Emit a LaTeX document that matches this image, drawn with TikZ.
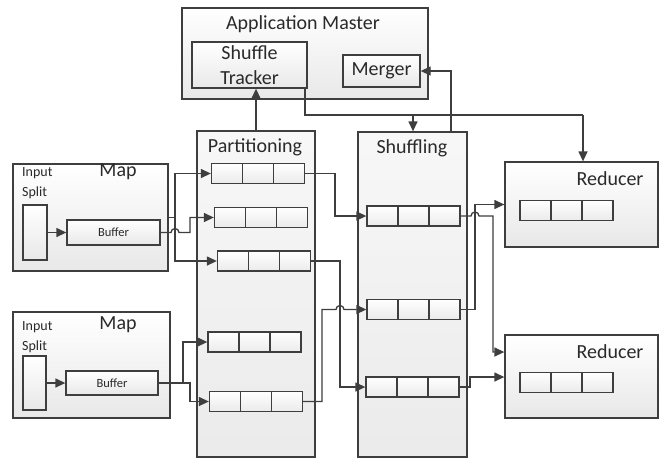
\documentclass[tikz,border=0pt]{standalone}
\usepackage{fontspec}
\setmainfont{Carlito}
\usetikzlibrary{arrows.meta,calc}
\definecolor{ln}{HTML}{3E3E3E}
\definecolor{tx}{HTML}{2A2A2A}
\tikzset{
  box/.style={draw=ln, line width=1.3pt, top color=white, bottom color=black!9, inner sep=0pt},
  column/.style={draw=ln, line width=1.3pt, top color=black!3, bottom color=black!8, inner sep=0pt},
  cellrow/.style={draw=ln, line width=1.3pt, top color=white, bottom color=black!8, inner sep=0pt,
    minimum width=93pt, minimum height=20pt,
    path picture={
      \draw[ln, line width=1.3pt] ($(path picture bounding box.north west)!1/3!(path picture bounding box.north east)$) -- ($(path picture bounding box.south west)!1/3!(path picture bounding box.south east)$);
      \draw[ln, line width=1.3pt] ($(path picture bounding box.north west)!2/3!(path picture bounding box.north east)$) -- ($(path picture bounding box.south west)!2/3!(path picture bounding box.south east)$);
    }},
  big/.style={text=tx, inner sep=0pt, font=\fontsize{20}{25}\selectfont},
  small/.style={text=tx, inner sep=0pt, font=\fontsize{14}{17}\selectfont},
  tiny/.style={text=tx, inner sep=0pt, font=\fontsize{12.5}{14}\selectfont},
  arr/.style={draw=ln, line width=1.3pt, -{Triangle[length=10pt,width=9pt]}},
  ln/.style={draw=ln, line width=1.3pt},
}
\begin{document}
\begin{tikzpicture}[x=1pt,y=-1pt]
\useasboundingbox (0,0) rectangle (664,459);
% Application master
\node[box, minimum width=246pt, minimum height=91pt] (am) at (305,53.5) {};
\node[big] (amt) at (303,24) {Application Master};
\node[box, minimum width=115pt, minimum height=46pt, align=center, text=tx, font=\fontsize{20}{25}\selectfont] (st) at (249.5,65) {Shuffle\\Tracker};
\node[box, minimum width=77pt, minimum height=32pt, text=tx, font=\fontsize{20}{25}\selectfont] (mg) at (381.5,71) {Merger};
% columns
\node[column, minimum width=118pt, minimum height=326pt] (part) at (256,294) {};
\node[big] (partt) at (255,147) {Partitioning};
\node[column, minimum width=109pt, minimum height=325pt] (shuf) at (412.5,294.5) {};
\node[big] (shuft) at (412,148) {Shuffling};
% maps
\node[box, minimum width=155pt, minimum height=107pt] (map1) at (90.5,217.5) {};
\node[big] (map1t) at (118,172) {Map};
\node[small, anchor=west] (in1) at (22,173) {Input};
\node[small, anchor=west] (sp1) at (22,193) {Split};
\node[box, minimum width=24pt, minimum height=55pt] (split1) at (35,232.5) {};
\node[box, minimum width=93pt, minimum height=25pt, tiny] (buf1) at (113.5,232.5) {Buffer};
\node[box, minimum width=157pt, minimum height=106pt] (map2) at (91.5,365) {};
\node[big] (map2t) at (118,325) {Map};
\node[small, anchor=west] (in2) at (22,327) {Input};
\node[small, anchor=west] (sp2) at (22,347) {Split};
\node[box, minimum width=23pt, minimum height=54pt] (split2) at (34.5,383) {};
\node[box, minimum width=92pt, minimum height=24pt, tiny] (buf2) at (112,383) {Buffer};
% partition rows
\node[cellrow] (p1) at (258,173.5) {};
\node[cellrow] (p2) at (261,217.5) {};
\node[cellrow] (p3) at (264,261) {};
\node[cellrow] (p4) at (254.5,342) {};
\node[cellrow] (p5) at (256,401.5) {};
% shuffle rows
\node[cellrow] (s1) at (413.5,216) {};
\node[cellrow] (s2) at (413.5,309.5) {};
\node[cellrow] (s3) at (412.5,387) {};
% reducers
\node[box, minimum width=153pt, minimum height=85pt] (red1) at (581.5,204.5) {};
\node[big] (red1t) at (610,179) {Reducer};
\node[cellrow] (r1) at (566.5,210.5) {};
\node[box, minimum width=153pt, minimum height=83pt] (red2) at (581.5,376.5) {};
\node[big] (red2t) at (610,352) {Reducer};
\node[cellrow] (r2) at (566.5,382.5) {};
% connectors
\draw[arr] (split1.east) -- (buf1.west);
\draw[arr] (split2.east) -- (buf2.west);
\draw[arr] (part.north -| 256,0) -- (st.south -| 256,0);
\draw[ln] (st.south -| 305,0) -- (305,115) -- (583,115);
\draw[arr] (583,115) -- (red1.north -| 583,0);
\draw[arr] (413,115) -- (shuf.north -| 413,0);
\draw[arr] (shuf.north -| 451,0) |- (mg.east);
% map1
\coordinate (j1) at (175,217.5);
\draw[ln] (map1.east) -- (j1);
\draw[arr] (j1) |- (p1.west);
\draw[arr] (j1) |- (p3.west);
\draw[arr] (buf1.east) -- (171,232.5) arc[start angle=180,end angle=0,radius=4pt] -- (190,232.5) |- (p2.west);
% map2
\coordinate (j2) at (183,383);
\draw[arr] (buf2.east) -- (j2) |- (p4.west);
\draw[arr] (j2) -- (190,383) |- (p5.west);
% partition -> shuffle
\draw[arr] (p1.east) -- (335,173.5) |- (s1.west);
\draw[arr] (p3.east) -- (340,261) |- (s3.west);
\draw[arr] (p5.east) -- (322,401.5) -- (322,309.5) -- (336,309.5) arc[start angle=180,end angle=0,radius=4pt] -- (s2.west);
% shuffle -> reducers
\draw[arr] (s2.east) -- (475,309.5) |- (red1.west);
\draw[arr] (s1.east) -- (471,216) arc[start angle=180,end angle=0,radius=4pt] -- (493,216) |- (red2.west |- 0,352);
\draw[arr] (s3.east) -- (470,387) |- (red2.west |- 0,377);
\end{tikzpicture}
\end{document}
